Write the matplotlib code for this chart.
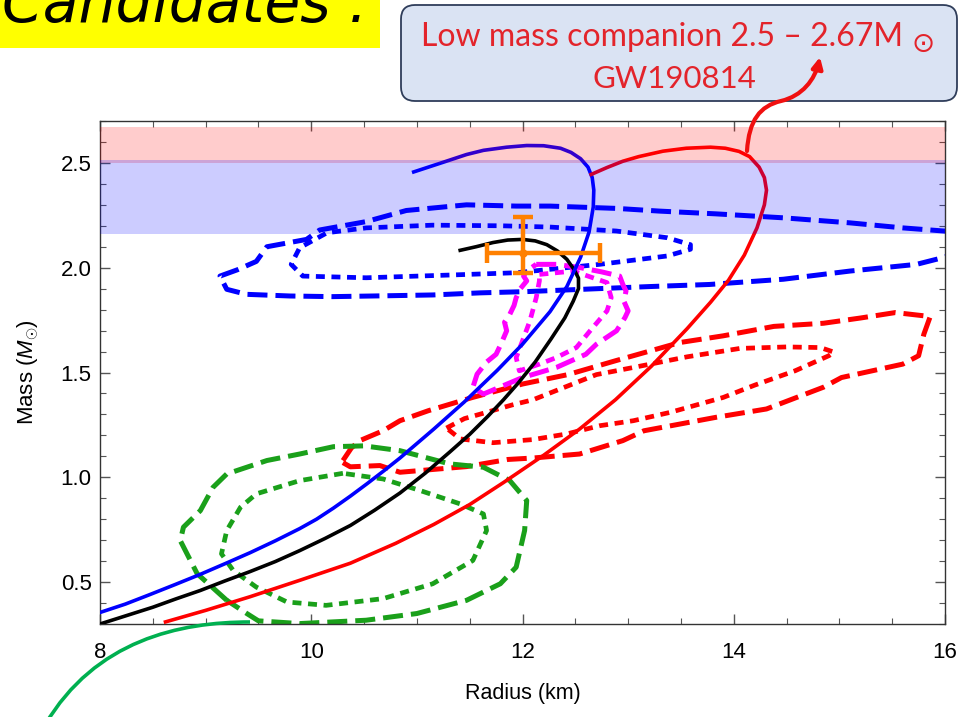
import matplotlib.pyplot as plt
from matplotlib.patches import FancyBboxPatch, FancyArrowPatch, Rectangle, PathPatch
from matplotlib.path import Path
from matplotlib.ticker import MultipleLocator, FormatStrFormatter

plt.rcParams['font.family'] = ['Liberation Sans', 'DejaVu Sans']
plt.rcParams['mathtext.fontset'] = 'custom'
plt.rcParams['mathtext.rm'] = 'Liberation Sans'
plt.rcParams['mathtext.it'] = 'Liberation Sans:italic'

# --- mass-radius relations (R in km, M in solar masses) ---
blue_r = [8.0, 8.24, 8.47, 8.71, 8.95, 9.18, 9.42, 9.66, 9.89, 10.05, 10.21, 10.37, 10.53,
          10.69, 10.84, 11.16, 11.45, 11.76, 12.0, 12.26, 12.42, 12.55, 12.63, 12.67, 12.675,
          12.66, 12.62, 12.55, 12.46, 12.36, 12.2, 12.04, 11.85, 11.63, 11.47, 11.2, 10.97]
blue_m = [0.355, 0.395, 0.44, 0.488, 0.537, 0.587, 0.64, 0.697, 0.755, 0.80, 0.853, 0.91, 0.97,
          1.032, 1.092, 1.23, 1.36, 1.51, 1.635, 1.79, 1.91, 2.05, 2.17, 2.29, 2.37,
          2.43, 2.48, 2.52, 2.55, 2.57, 2.582, 2.583, 2.575, 2.56, 2.54, 2.495, 2.457]

black_r = [8.0, 8.25, 8.5, 8.72, 8.95, 9.18, 9.42, 9.66, 9.89, 10.13, 10.37, 10.6, 10.84, 11.08,
           11.31, 11.5, 11.67, 11.82, 11.96, 12.12, 12.27, 12.40, 12.48, 12.53, 12.53, 12.49,
           12.42, 12.33, 12.23, 12.12, 12.0, 11.86, 11.72, 11.56, 11.41]
black_m = [0.30, 0.34, 0.38, 0.42, 0.46, 0.505, 0.55, 0.598, 0.65, 0.708, 0.77, 0.843, 0.925,
           1.02, 1.12, 1.205, 1.29, 1.37, 1.45, 1.55, 1.66, 1.76, 1.84, 1.90, 1.95, 1.99,
           2.04, 2.08, 2.11, 2.128, 2.135, 2.132, 2.12, 2.10, 2.083]

red_r = [8.62, 9.0, 9.42, 9.9, 10.37, 10.8, 11.16, 11.5, 11.82, 12.2, 12.54, 12.88, 13.22,
         13.56, 13.78, 13.95, 14.1, 14.22, 14.29, 14.31, 14.29, 14.24, 14.15, 14.05, 13.92,
         13.78, 13.55, 13.33, 13.1, 12.95, 12.8, 12.65]
red_m = [0.31, 0.365, 0.43, 0.51, 0.59, 0.685, 0.775, 0.87, 0.975, 1.105, 1.23, 1.37, 1.53,
         1.71, 1.835, 1.94, 2.06, 2.19, 2.30, 2.37, 2.43, 2.48, 2.53, 2.555, 2.57,
         2.575, 2.57, 2.556, 2.53, 2.508, 2.478, 2.445]

# --- credible-region contours ---
blue_dash_r = [16.05, 15.99, 15.6, 15.1, 14.47, 13.83, 13.3, 12.89, 12.26, 11.94, 11.47, 10.9,
               10.52, 10.08, 9.955, 9.58, 9.48, 9.3, 9.136, 9.2, 9.386, 9.8, 10.2, 10.7, 11.15,
               11.6, 12.04, 12.57, 13.2, 13.77, 14.47, 15.1, 15.73, 15.98, 16.05]
blue_dash_m = [2.172, 2.175, 2.19, 2.214, 2.238, 2.257, 2.27, 2.283, 2.294, 2.294, 2.30, 2.273,
               2.22, 2.18, 2.135, 2.10, 2.03, 1.99, 1.96, 1.897, 1.873, 1.865, 1.862, 1.866, 1.87,
               1.88, 1.886, 1.897, 1.91, 1.92, 1.945, 1.984, 2.016, 2.048, 2.06]

blue_dot_r = [12.26, 12.89, 13.37, 13.59, 13.59, 13.37, 12.73, 11.94, 11.31, 10.52, 9.92, 9.81,
              9.89, 10.15, 10.52, 11.15, 11.8, 12.26]
blue_dot_m = [2.194, 2.175, 2.143, 2.11, 2.088, 2.056, 2.016, 1.976, 1.965, 1.952, 1.96, 2.016,
              2.095, 2.167, 2.19, 2.203, 2.20, 2.194]

red_dash_r = [10.30, 10.38, 10.46, 10.68, 10.84, 11.11, 11.52, 12.0, 12.43, 12.88, 13.49, 13.90,
              14.38, 14.85, 15.2, 15.53, 15.86, 15.80, 15.75, 15.6, 15.02, 14.85, 14.31, 13.83,
              13.15, 12.95, 12.54, 12.1, 11.86, 11.47, 10.84, 10.65, 10.37, 10.30]
red_dash_m = [1.08, 1.14, 1.175, 1.222, 1.27, 1.318, 1.38, 1.445, 1.49, 1.556, 1.643, 1.675,
              1.72, 1.735, 1.76, 1.786, 1.767, 1.683, 1.58, 1.54, 1.476, 1.43, 1.326, 1.286,
              1.222, 1.175, 1.111, 1.092, 1.085, 1.051, 1.024, 1.056, 1.05, 1.07]

red_dot_r = [11.28, 11.45, 11.66, 11.9, 12.1, 12.4, 12.7, 13.05, 13.56, 14.06, 14.5, 14.82,
             14.95, 14.90, 14.58, 14.2, 13.9, 13.4, 13.05, 12.73, 12.42, 12.1, 11.72, 11.41, 11.28]
red_dot_m = [1.235, 1.28, 1.31, 1.345, 1.37, 1.43, 1.49, 1.524, 1.575, 1.615, 1.622, 1.619,
             1.597, 1.58, 1.508, 1.44, 1.381, 1.31, 1.27, 1.246, 1.207, 1.18, 1.165, 1.183, 1.235]

green_dash_r = [9.2, 8.92, 8.76, 8.79, 8.95, 9.07, 9.2, 9.58, 9.89, 10.21, 10.5, 10.84, 11.31,
                11.63, 11.88, 12.04, 12.02, 11.94, 11.79, 11.47, 11.0, 10.52, 9.89, 9.5, 9.39, 9.2]
green_dash_m = [0.413, 0.54, 0.698, 0.762, 0.841, 0.952, 1.016, 1.08, 1.111, 1.146, 1.15, 1.127,
                1.064, 1.048, 0.984, 0.889, 0.746, 0.571, 0.492, 0.413, 0.35, 0.318, 0.302,
                0.315, 0.35, 0.413]

green_dot_r = [10.30, 9.89, 9.48, 9.33, 9.2, 9.15, 9.26, 9.48, 9.77, 10.14, 10.68, 11.15, 11.53,
               11.66, 11.63, 11.41, 11.03, 10.68, 10.30]
green_dot_m = [1.019, 0.984, 0.921, 0.857, 0.746, 0.635, 0.556, 0.476, 0.405, 0.389, 0.421,
               0.492, 0.603, 0.746, 0.825, 0.873, 0.937, 0.992, 1.019]

mag_dash_r = [12.13, 12.32, 12.55, 12.75, 12.92, 12.95, 12.98, 12.96, 13.0, 12.97, 12.93, 12.89,
              12.70, 12.60, 12.32, 12.0, 11.85, 11.63, 11.53, 11.57, 11.66, 11.75, 11.80, 11.85,
              11.83, 11.88, 11.92, 11.94, 11.98, 12.04, 12.01, 12.04, 12.13]
mag_dash_m = [2.016, 2.016, 2.0, 1.98, 1.96, 1.92, 1.889, 1.84, 1.794, 1.762, 1.73, 1.699,
              1.635, 1.587, 1.524, 1.476, 1.444, 1.397, 1.429, 1.492, 1.55, 1.587, 1.64, 1.699,
              1.74, 1.778, 1.82, 1.857, 1.90, 1.937, 1.96, 1.984, 2.016]

mag_dot_r = [12.16, 12.48, 12.80, 12.84, 12.80, 12.64, 12.51, 12.32, 12.16, 11.97, 11.94, 12.0,
             12.07, 12.13, 12.16, 12.16]
mag_dot_m = [1.968, 1.984, 1.929, 1.857, 1.794, 1.699, 1.619, 1.571, 1.54, 1.508, 1.571, 1.651,
             1.746, 1.857, 1.937, 1.968]

# radius/mass measurement: value, lower error, upper error
psr_r, psr_r_lo, psr_r_hi = 12.0, 0.34, 0.73
psr_m, psr_m_lo, psr_m_hi = 2.07, 0.095, 0.17

# mass bands
gw_band = (2.50, 2.67)
max_band = (2.16, 2.515)


fig = plt.figure(figsize=(9.73, 7.17), dpi=100)
ax = fig.add_axes([100 / 973, 1 - 624 / 717, 845 / 973, 503 / 717])


def contour(r, m, color, style):
    if style == "dashed":
        lw, dashes = 3.6, (4.0, 1.6)
    else:
        lw, dashes = 3.4, (1.9, 1.4)
    ax.plot(r, m, color=color, lw=lw, dashes=dashes, dash_capstyle="butt", zorder=2)


contour(blue_dash_r, blue_dash_m, "#0000FF", "dashed")
contour(blue_dot_r, blue_dot_m, "#0000FF", "dotted")
contour(red_dash_r, red_dash_m, "#FF0000", "dashed")
contour(red_dot_r, red_dot_m, "#FF0000", "dotted")
contour(green_dash_r, green_dash_m, "#1AA01A", "dashed")
contour(green_dot_r, green_dot_m, "#1AA01A", "dotted")
contour(mag_dash_r, mag_dash_m, "#FF00FF", "dashed")
contour(mag_dot_r, mag_dot_m, "#FF00FF", "dotted")

ax.plot(black_r, black_m, color="black", lw=2.6, zorder=3, solid_joinstyle="round")
ax.plot(blue_r, blue_m, color="#0000FF", lw=2.6, zorder=3, solid_joinstyle="round")
ax.plot(red_r, red_m, color="#FF0000", lw=2.6, zorder=3, solid_joinstyle="round")

ax.axhspan(*gw_band, color=(1, 0, 0), alpha=0.2, lw=0, zorder=4)
ax.axhspan(*max_band, color=(0, 0, 1), alpha=0.2, lw=0, zorder=4)

ax.errorbar([psr_r], [psr_m], xerr=[[psr_r_lo], [psr_r_hi]], yerr=[[psr_m_lo], [psr_m_hi]],
            color="#FF8000", lw=3.2, capsize=7.5, capthick=3.2, marker="o", ms=5, zorder=6)

ax.set_xlim(8, 16)
ax.set_ylim(0.3, 2.7)
ax.xaxis.set_major_locator(MultipleLocator(2))
ax.xaxis.set_minor_locator(MultipleLocator(0.5))
ax.yaxis.set_major_locator(MultipleLocator(0.5))
ax.yaxis.set_minor_locator(MultipleLocator(0.1))
ax.yaxis.set_major_formatter(FormatStrFormatter("%.1f"))
ax.tick_params(which="both", direction="in", top=True, right=True, color="#555555")
ax.tick_params(which="major", length=7, width=1, labelsize=16)
ax.tick_params(which="minor", length=4, width=0.8)
ax.tick_params(axis="x", pad=13)
ax.tick_params(axis="y", pad=6)
for sp in ax.spines.values():
    sp.set_color("#333333")
    sp.set_linewidth(1.0)

fig.text((100 + 945) / 2 / 973, 1 - 693 / 717, "Radius (km)", ha="center", va="center", fontsize=15.5)
fig.text(28 / 973, 1 - 372 / 717, r"Mass ($M_{\odot}$)", ha="center", va="center",
         rotation=90, fontsize=16)

# --- slide decorations in pixel coordinates ---
over = fig.add_axes([0, 0, 1, 1], zorder=10)
over.set_xlim(0, 973)
over.set_ylim(717, 0)
over.axis("off")
over.patch.set_alpha(0)

over.add_patch(Rectangle((0, 0), 380, 48, color="#FFFF00", lw=0))
over.text(2, 22, "Candidates :", fontsize=42, style="italic", va="baseline", ha="left",
          family=["DejaVu Sans"], clip_on=False)

over.add_patch(FancyBboxPatch((401, 5), 556, 96, boxstyle="round,pad=0,rounding_size=14",
                              fc="#DAE3F3", ec="#2F3D5A", lw=1.3))
over.text(903, 46, "Low mass companion 2.5 \u2013 2.67M", ha="right", va="baseline",
          fontsize=23, color="#E3242B", family=["Lato", "DejaVu Sans"])
over.text(911, 52, "\u2299", ha="left", va="baseline", fontsize=20, color="#E3242B",
          family=["DejaVu Sans"])
over.text(674, 88, "GW190814", ha="center", va="baseline", fontsize=22.5, color="#E3242B",
          family=["Lato", "DejaVu Sans"])

arrow_path = Path([(747, 151), (749, 120), (760, 106), (781, 101),
                   (802, 96), (815, 80), (820, 57)],
                  [Path.MOVETO, Path.CURVE4, Path.CURVE4, Path.CURVE4,
                   Path.CURVE4, Path.CURVE4, Path.CURVE4])
over.add_patch(FancyArrowPatch(path=arrow_path, arrowstyle="-|>", mutation_scale=16,
                               color="#F01010", lw=3, transform=over.transData))

green_path = Path([(45, 725), (95, 640), (180, 622), (250, 622)],
                  [Path.MOVETO, Path.CURVE4, Path.CURVE4, Path.CURVE4])
over.add_patch(PathPatch(green_path, fill=False, ec="#00B050", lw=2.6, clip_on=False))

fig.savefig("out.png", dpi=100)
